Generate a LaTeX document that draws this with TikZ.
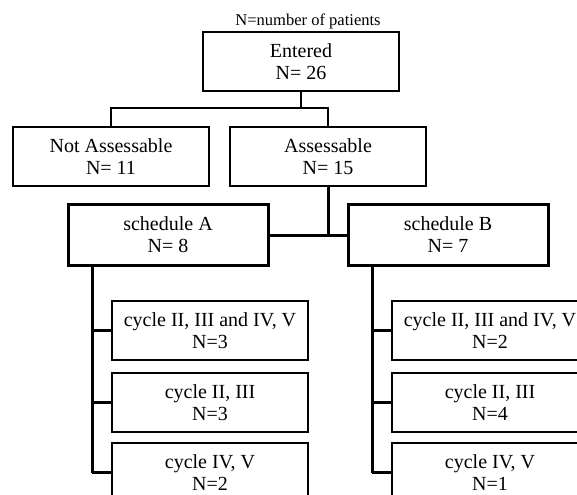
\documentclass[tikz,border=0pt]{standalone}
\usepackage{fontspec}
\setmainfont{Liberation Serif}
\begin{document}
\begin{tikzpicture}[x=0.75pt,y=-0.75pt,
  box/.style={draw, line width=1pt, align=center, inner sep=0pt,
    minimum width=147pt, minimum height=44.25pt,
    font=\fontsize{15}{16.5}\selectfont},
  sched/.style={box, line width=2.25pt, minimum width=150pt, minimum height=45.75pt},
  thinline/.style={line width=1pt},
  thickline/.style={line width=2.25pt},
  branchline/.style={line width=1.6pt},
  note/.style={inner sep=0pt, font=\fontsize{12.4}{13}\selectfont}]
\useasboundingbox (0,0) rectangle (577,495);
\clip (0,0) rectangle (577,495);

\node[note, anchor=base] (nt) at (308,26) {N=number of patients};

\node[box] (ent) at (301,61.5) {Entered\\N= 26};
\node[box] (na) at (111,156.5) {Not Assessable\\N= 11};
\node[box] (as) at (328,156.5) {Assessable\\N= 15};

\node[sched] (sa) at (168,235) {schedule A\\N= 8};
\node[sched] (sb) at (448,235) {schedule B\\N= 7};

\node[box] (a1) at (210,330.5) {cycle II, III and IV, V\\N=3};
\node[box] (a2) at (210,402.5) {cycle II, III\\N=3};
\node[box] (a3) at (210,472.5) {cycle IV, V\\N=2};

\node[box] (b1) at (490,330.5) {cycle II, III and IV, V\\N=2};
\node[box] (b2) at (490,402.5) {cycle II, III\\N=4};
\node[box] (b3) at (490,472.5) {cycle IV, V\\N=1};

% top connectors
\coordinate (split) at (301,108);
\draw[thinline] (ent.south) -- (split);
\draw[thinline] (na.north) |- (split) -| (as.north);

% assessable to schedules
\draw[thickline] (as.south) -- (as.south |- sa.east);
\draw[thickline] (sa.east) -- (sb.west);

% schedule A trunk
\coordinate (ta) at (92,473);
\draw[thickline] (sa.south -| ta) -- (ta);
\draw[branchline] (a1.west -| ta) -- (a1.west);
\draw[branchline] (a2.west -| ta) -- (a2.west);
\draw[branchline] (a3.west -| ta) -- (a3.west);

% schedule B trunk
\coordinate (tb) at (372,473);
\draw[thickline] (sb.south -| tb) -- (tb);
\draw[branchline] (b1.west -| tb) -- (b1.west);
\draw[branchline] (b2.west -| tb) -- (b2.west);
\draw[branchline] (b3.west -| tb) -- (b3.west);
\end{tikzpicture}
\end{document}
